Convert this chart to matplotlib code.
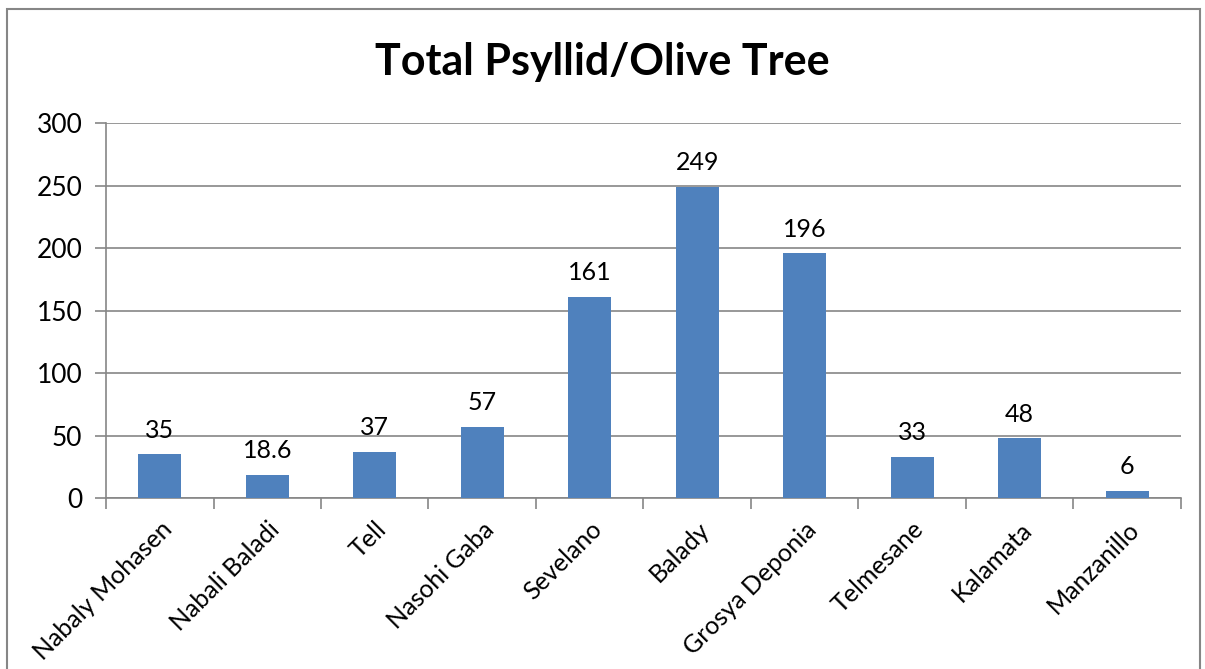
import numpy as np
import matplotlib
matplotlib.use('Agg')
from matplotlib import pyplot as plt
from matplotlib.patches import Rectangle

plt.rcParams['font.family'] = ['Lato', 'DejaVu Sans']

varieties = ['Nabaly Mohasen', 'Nabali Baladi', 'Tell', 'Nasohi Gaba', 'Sevelano',
             'Balady', 'Grosya Deponia', 'Telmesane', 'Kalamata', 'Manzanillo']
psyllids = [35, 18.6, 37, 57, 161, 249, 196, 33, 48, 6]
labels = ['35', '18.6', '37', '57', '161', '249', '196', '33', '48', '6']
yticks = [0, 50, 100, 150, 200, 250, 300]

fig = plt.figure(figsize=(12.05, 6.69), dpi=100)
ax = fig.add_axes([0.088, 0.2556, 0.892, 0.5605])

x = np.arange(len(varieties))
ax.bar(x, psyllids, width=0.4, color='#4F81BD', zorder=3)
for xi, v, t in zip(x, psyllids, labels):
    ax.annotate(t, (xi, v), xytext=(0, 9), textcoords='offset points',
                ha='center', va='bottom', fontsize=18, color='black')

ax.set_xlim(-0.5, len(varieties) - 0.5)
ax.set_ylim(0, 300)
ax.set_yticks(yticks)
ax.set_yticklabels([str(t) for t in yticks], fontsize=19)
ax.yaxis.grid(True, color='#868686', linewidth=1.2, zorder=0)

ax.set_xticks(x)
ax.set_xticklabels(varieties, rotation=45, ha='right', rotation_mode='anchor', fontsize=18)
ax.tick_params(axis='x', which='major', length=0, pad=14)
ax.set_xticks(np.arange(-0.5, len(varieties)), minor=True)
ax.tick_params(axis='x', which='minor', length=8, color='#868686', width=1.2)
ax.tick_params(axis='y', length=8, color='#868686', width=1.2, pad=9)

for s in ['top', 'right']:
    ax.spines[s].set_visible(False)
for s in ['left', 'bottom']:
    ax.spines[s].set_color('#868686')
    ax.spines[s].set_linewidth(1.2)

fig.text(0.5, 0.907, 'Total Psyllid/Olive Tree', ha='center', va='center',
         fontsize=31, fontweight='bold')

# chart area border
fig.patches.append(Rectangle((7 / 1205, -0.1), 1193 / 1205, 1.1 - 9 / 669,
                             transform=fig.transFigure, fill=False,
                             edgecolor='#868686', linewidth=1.5))

fig.savefig('out.png', dpi=100)
